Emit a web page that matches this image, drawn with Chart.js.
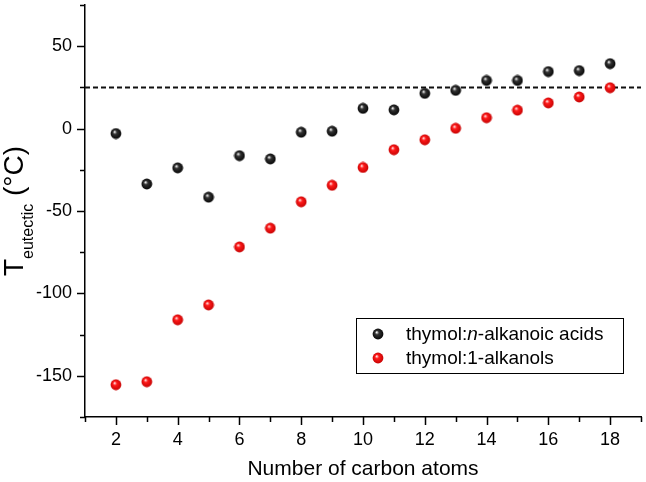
<!DOCTYPE html>
<html>
<head>
<meta charset="utf-8">
<script src="https://cdn.jsdelivr.net/npm/chart.js@4"></script>
<style>
  html, body { margin: 0; padding: 0; background: #fff; }
  #wrap { width: 646px; height: 482px; }
</style>
</head>
<body>
<div id="wrap"><canvas id="myChart" width="646" height="482"></canvas></div>
<script>
// data
const carbonAtoms = [2, 3, 4, 5, 6, 7, 8, 9, 10, 11, 12, 13, 14, 15, 16, 17, 18];
const acidTemps = [-3, -33.6, -23.8, -41.6, -16.4, -18.4, -2.2, -1.6, 12.3, 11.4, 21.4, 23.2, 29.2, 29.2, 34.6, 35.2, 39.4];
const alkanolTemps = [-155.4, -153.6, -116, -107, -71.8, -60.4, -44.4, -34.4, -23.6, -12.8, -6.8, 0.2, 6.6, 11.2, 15.6, 19.2, 24.8];
const roomTemp = 25;
const xRange = [1, 19];
const yRange = [-175, 75];
const seriesNames = [
    [["thymol:", false], ["n", true], ["-alkanoic acids", false]],
    [["thymol:1-alkanols", false]]
];
const xTitle = "Number of carbon atoms";

const FONT = "'Liberation Sans', Arial, Helvetica, sans-serif";

function makeSphere(light, mid, dark) {
    const c = document.createElement("canvas");
    c.width = 12; c.height = 12;
    const g = c.getContext("2d");
    const grad = g.createRadialGradient(4.6, 4.2, 0.3, 6, 6, 6);
    grad.addColorStop(0, light);
    grad.addColorStop(0.3, mid);
    grad.addColorStop(1, dark);
    g.fillStyle = grad;
    g.beginPath();
    g.arc(6, 6, 5.4, 0, Math.PI * 2);
    g.fill();
    return c;
}
const blackBall = makeSphere("#f2f2f2", "#333", "#000");
const redBall = makeSphere("#ffe0e0", "#ff1a1a", "#c00000");

const toPts = (xs, ys) => xs.map((x, i) => ({ x: x, y: ys[i] }));

// tick marks: long at labelled values, short in between
const tickMarks = {
    id: "tickMarks",
    afterDraw(chart) {
        const ctx = chart.ctx;
        const xs = chart.scales.x, ys = chart.scales.y;
        ctx.save();
        ctx.strokeStyle = "#000";
        ctx.lineWidth = 1.5;
        ctx.beginPath();
        xs.ticks.forEach(t => {
            const px = Math.round(xs.getPixelForValue(t.value)) + 0.5;
            const len = t.value % 2 === 0 ? 8 : 5;
            ctx.moveTo(px, xs.top);
            ctx.lineTo(px, xs.top + len);
        });
        ys.ticks.forEach(t => {
            const py = Math.round(ys.getPixelForValue(t.value)) + 0.5;
            const len = t.value % 50 === 0 ? 8 : 5;
            ctx.moveTo(ys.right, py);
            ctx.lineTo(ys.right - len, py);
        });
        ctx.stroke();
        ctx.restore();
    }
};

// y title with subscript
const yTitle = {
    id: "yTitle",
    afterDraw(chart) {
        const ctx = chart.ctx;
        const area = chart.chartArea;
        const big = "28px " + FONT, small = "16px " + FONT;
        ctx.save();
        ctx.font = big;
        const wT = ctx.measureText("T").width;
        const wC = ctx.measureText(" (\u00b0C)").width;
        ctx.font = small;
        const wS = ctx.measureText("eutectic").width;
        const total = wT + wS + wC;
        ctx.translate(23, (area.top + area.bottom) / 2);
        ctx.rotate(-Math.PI / 2);
        ctx.fillStyle = "#000";
        ctx.textBaseline = "alphabetic";
        let x = -total / 2;
        ctx.font = big;
        ctx.fillText("T", x, 0);
        x += wT;
        ctx.font = small;
        ctx.fillText("eutectic", x, 10);
        x += wS;
        ctx.font = big;
        ctx.fillText(" (\u00b0C)", x, 0);
        ctx.restore();
    }
};

// boxed legend, italic n in first entry
const boxLegend = {
    id: "boxLegend",
    afterDraw(chart) {
        const ctx = chart.ctx;
        const balls = [blackBall, redBall];
        const bx = 356, by = 318, bw = 267, bh = 55;
        ctx.save();
        ctx.fillStyle = "#fff";
        ctx.fillRect(bx, by, bw, bh);
        ctx.strokeStyle = "#000";
        ctx.lineWidth = 1;
        ctx.strokeRect(bx + 0.5, by + 0.5, bw, bh);
        ctx.fillStyle = "#000";
        ctx.textBaseline = "middle";
        seriesNames.forEach((parts, i) => {
            const cy = by + 16 + i * 24;
            ctx.drawImage(balls[i], 378 - 6, cy - 6);
            let x = 406;
            parts.forEach(p => {
                ctx.font = (p[1] ? "italic " : "") + "19px " + FONT;
                ctx.fillText(p[0], x, cy + 1);
                x += ctx.measureText(p[0]).width;
            });
        });
        ctx.restore();
    }
};

const ctx = document.getElementById("myChart");
const myChart = new Chart(ctx, {
    type: "scatter",
    data: {
        datasets: [
            {
                label: "room temperature",
                type: "line",
                data: [{ x: xRange[0], y: roomTemp }, { x: xRange[1], y: roomTemp }],
                borderColor: "#111",
                borderWidth: 2,
                borderDash: [5, 3],
                pointRadius: 0,
                order: 3
            },
            {
                label: "thymol:n-alkanoic acids",
                data: toPts(carbonAtoms, acidTemps),
                pointStyle: blackBall,
                order: 1
            },
            {
                label: "thymol:1-alkanols",
                data: toPts(carbonAtoms, alkanolTemps),
                pointStyle: redBall,
                order: 2
            }
        ]
    },
    options: {
        responsive: false,
        animation: false,
        layout: { padding: { left: 0, right: 2, top: 0, bottom: 0 } },
        scales: {
            x: {
                type: "linear",
                min: xRange[0],
                max: xRange[1],
                afterFit: s => { s.height = 65; s.paddingLeft = 0; s.paddingRight = 0; },
                grid: { display: false, drawTicks: false },
                border: { display: true, color: "#000", width: 1.5 },
                ticks: {
                    stepSize: 1,
                    autoSkip: false,
                    maxRotation: 0,
                    padding: 12,
                    color: "#000",
                    font: { family: FONT, size: 18 },
                    callback: v => (v % 2 === 0 ? v : "")
                },
                title: {
                    display: true,
                    text: xTitle,
                    color: "#000",
                    font: { family: FONT, size: 21 },
                    padding: { top: 6, bottom: 0 }
                }
            },
            y: {
                min: yRange[0],
                max: yRange[1],
                afterFit: s => { s.width = 85; s.paddingTop = 0; s.paddingBottom = 0; },
                grid: { display: false, drawTicks: false },
                border: { display: true, color: "#000", width: 1.5 },
                ticks: {
                    stepSize: 25,
                    autoSkip: false,
                    padding: 13,
                    color: "#000",
                    font: { family: FONT, size: 18 },
                    callback: v => (v % 50 === 0 ? v : "")
                }
            }
        },
        plugins: {
            legend: { display: false },
            tooltip: { enabled: false }
        }
    },
    plugins: [tickMarks, yTitle, boxLegend]
});
</script>
</body>
</html>
